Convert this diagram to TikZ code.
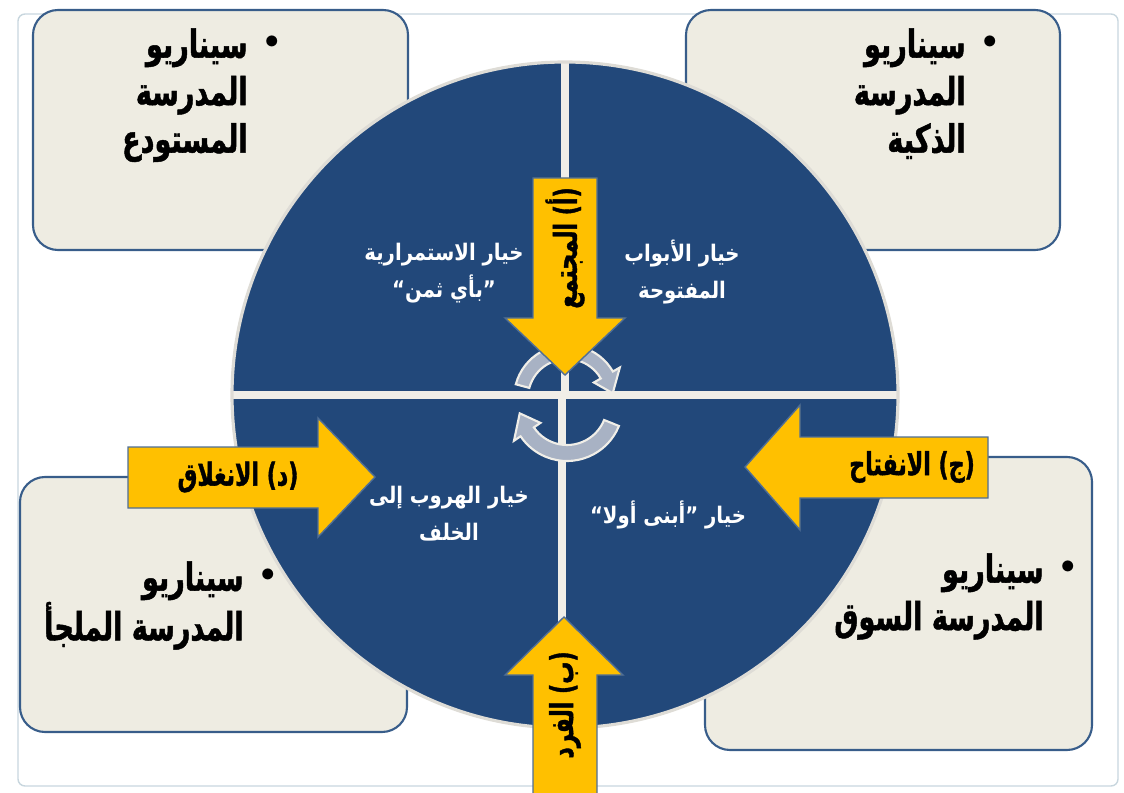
\documentclass[tikz,border=0pt]{standalone}
\usepackage{fontspec}
\newfontfamily\arabicfont[Script=Arabic, FakeStretch=0.7, BoldFeatures={FakeBold=1.2}]{DejaVu Sans}
\newfontfamily\optfont[Script=Arabic, FakeStretch=0.86]{DejaVu Sans}
\TeXXeTstate=1
\usetikzlibrary{arrows.meta}
\definecolor{scnblue}{RGB}{34,72,122}
\definecolor{scnedge}{RGB}{56,93,138}
\definecolor{scnsand}{RGB}{238,236,226}
\definecolor{scnyellow}{RGB}{255,192,0}
\definecolor{scnline}{RGB}{79,110,150}
\definecolor{scnrim}{RGB}{222,220,214}
\definecolor{scngap}{RGB}{240,238,232}
\definecolor{scnturn}{RGB}{168,178,196}
\definecolor{scnframe}{RGB}{200,214,222}
\newcommand{\rl}[1]{\beginR #1\endR}

\begin{document}
\begin{tikzpicture}[
    x=0.02cm, y=-0.02cm,
    box/.style={draw=scnedge, line width=1.2pt, fill=scnsand, rounded corners=0.5cm},
    scntext/.style={font=\arabicfont\bfseries\fontsize{22}{27}\selectfont, align=right, anchor=north east, inner sep=0pt},
    dot/.style={font=\fontsize{28}{28}\selectfont, inner sep=0pt},
    optext/.style={font=\optfont\bfseries\fontsize{13}{21}\selectfont, text=white, align=center},
    arrtext/.style={font=\arabicfont\bfseries\fontsize{18}{20}\selectfont},
    yarrow/.style={draw=scnline, line width=0.8pt, fill=scnyellow, line join=miter},
    turn/.style={draw=scngap, line width=1.2pt, fill=scnturn}
  ]
    \useasboundingbox (0,0) rectangle (1124,793);
    \draw[scnframe, line width=0.8pt, rounded corners=4pt] (18,14) rectangle (1118,786);

    % scenario boxes
    \draw[box] (33,10) rectangle (408,250);
    \draw[box] (686,10) rectangle (1060,250);
    \draw[box] (20,477) rectangle (407,732);
    \draw[box] (705,457) rectangle (1092,750);

    \node[dot] (b1) at (272,45) {\textbullet};
    \node[scntext] (s1) at (248,28) {\rl{سيناريو}\\\rl{المدرسة}\\\rl{المستودع}};
    \node[dot] (b2) at (990,45) {\textbullet};
    \node[scntext] (s2) at (966,28) {\rl{سيناريو}\\\rl{المدرسة}\\\rl{الذكية}};
    \node[dot] (b3) at (268,578) {\textbullet};
    \node[scntext] (s3) at (244,561) {\rl{سيناريو}\\\rl{المدرسة الملجأ}};
    \node[dot] (b4) at (1068,570) {\textbullet};
    \node[scntext] (s4) at (1044,553) {\rl{سيناريو}\\\rl{المدرسة السوق}};

    % circle split in four
    \fill[scnblue] (565,395) circle[radius=333];
    \begin{scope}
      \clip (565,395) circle[radius=333];
      \draw[scngap, line width=4.5pt] (220,395) -- (910,395);
      \draw[scngap, line width=4.5pt] (565,50) -- (565,395);
      \draw[scngap, line width=4.5pt] (562,395) -- (562,740);
    \end{scope}
    \draw[scnrim, line width=1.8pt] (565,395) circle[radius=333];

    % turning arrows
    \begin{scope}[shift={(567,398)}]
      \draw[turn] (-165:53) arc[start angle=-165, end angle=-30, radius=53]
        -- (-30:61) -- (-6:46) -- (-30:31) -- (-30:39)
        arc[start angle=-30, end angle=-165, radius=39] -- cycle;
    \end{scope}
    \begin{scope}[shift={(567,405)}]
      \draw[turn] (22:56) arc[start angle=22, end angle=146, radius=56]
        -- (146:64) -- (170:48) -- (146:32) -- (146:40)
        arc[start angle=146, end angle=22, radius=40] -- cycle;
    \end{scope}

    % block arrows
    \draw[yarrow] (533,178) -- (597,178) -- (597,318) -- (625,318) -- (565,375)
      -- (505,318) -- (533,318) -- cycle;
    \draw[yarrow] (533,800) -- (533,675) -- (505,675) -- (564,617) -- (623,675)
      -- (597,675) -- (597,800);
    \draw[yarrow] (128,447) -- (318,447) -- (318,418) -- (375,477) -- (318,537)
      -- (318,508) -- (128,508) -- cycle;
    \draw[yarrow] (988,437) -- (800,437) -- (800,405) -- (745,467) -- (800,530)
      -- (800,498) -- (988,498) -- cycle;

    \node[arrtext, rotate=90] (a1) at (565,248) {\rl{(أ) المجتمع}};
    \node[arrtext, rotate=90] (a2) at (565,705) {\rl{(ب) الفرد}};
    \node[arrtext] (a3) at (912,467) {\rl{(ج) الانفتاح}};
    \node[arrtext] (a4) at (238,477) {\rl{(د) الانغلاق}};

    % options
    \node[optext] (q1) at (444,273) {\rl{خيار الاستمرارية}\\\rl{”بأي ثمن“}};
    \node[optext] (q2) at (682,272) {\rl{خيار الأبواب}\\\rl{المفتوحة}};
    \node[optext] (q3) at (449,514) {\rl{خيار الهروب إلى}\\\rl{الخلف}};
    \node[optext] (q4) at (668,515) {\rl{خيار ”أبنى أولا“}};
\end{tikzpicture}
\end{document}
